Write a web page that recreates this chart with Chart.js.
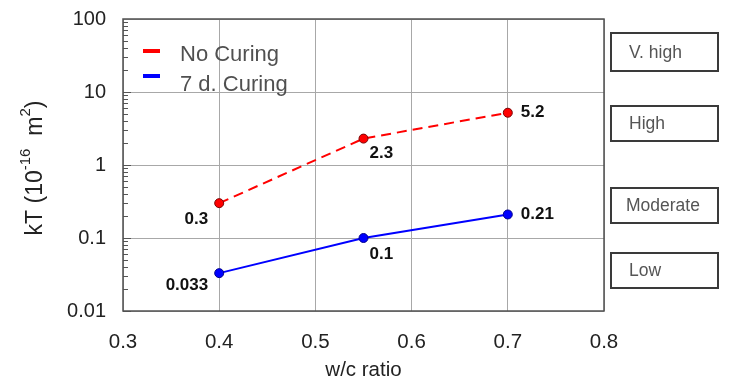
<!DOCTYPE html>
<html>
<head>
<meta charset="utf-8">
<script src="https://cdn.jsdelivr.net/npm/chart.js@4.4.1/dist/chart.umd.min.js"></script>
<style>
  html, body { margin: 0; padding: 0; background: #fff; }
  #wrap { width: 729px; height: 387px; position: relative; }
</style>
</head>
<body>
<div id="wrap"><canvas id="grafico"></canvas></div>
<script>
// data
const wcRatio = [0.4, 0.55, 0.7];
const noCuring = [0.3, 2.3, 5.2];
const curing7d = [0.033, 0.1, 0.21];
const noCuringLabels = ['0.3', '2.3', '5.2'];
const curing7dLabels = ['0.033', '0.1', '0.21'];
const yTicks = [0.01, 0.1, 1, 10, 100];
const xTicks = [0.3, 0.4, 0.5, 0.6, 0.7, 0.8];
const classes = ['V. high', 'High', 'Moderate', 'Low'];

const FONT = 'Arial, "Liberation Sans", sans-serif';

// label offsets relative to each point (dx, dy, align)
const labelPos = [
    [[-11, 16, 'right'], [6, 15, 'left'], [13, 0, 'left']],
    [[-11, 12, 'right'], [6, 16, 'left'], [13, 0, 'left']]
];
// class boxes on the right side [y top, y bottom]
const boxPos = [[33, 71], [106, 141], [188, 223], [253, 288]];

const extras = {
    id: 'extras',
    afterDraw(chart) {
        const ctx = chart.ctx;
        const area = chart.chartArea;
        const y = chart.scales.y;
        ctx.save();

        // minor ticks on the log axis
        ctx.strokeStyle = '#555';
        ctx.lineWidth = 1;
        for (let d = 0.01; d < 99; d *= 10) {
            for (let k = 2; k <= 9; k++) {
                const py = Math.round(y.getPixelForValue(d * k)) + 0.5;
                ctx.beginPath();
                ctx.moveTo(area.left, py);
                ctx.lineTo(area.left + 5, py);
                ctx.stroke();
            }
            const py = Math.round(y.getPixelForValue(d)) + 0.5;
            ctx.beginPath();
            ctx.moveTo(area.left, py);
            ctx.lineTo(area.left + 8, py);
            ctx.stroke();
        }

        // frame
        ctx.strokeStyle = '#505050';
        ctx.lineWidth = 1.5;
        ctx.strokeRect(area.left, area.top, area.right - area.left, area.bottom - area.top);

        // data labels
        ctx.fillStyle = '#111';
        ctx.font = 'bold 17px ' + FONT;
        ctx.textBaseline = 'middle';
        const allLabels = [noCuringLabels, curing7dLabels];
        chart.data.datasets.forEach((ds, i) => {
            const meta = chart.getDatasetMeta(i);
            meta.data.forEach((pt, j) => {
                const p = labelPos[i][j];
                ctx.textAlign = p[2];
                ctx.fillText(allLabels[i][j], pt.x + p[0], pt.y + p[1]);
            });
        });

        // legend inside the plot
        ctx.textAlign = 'left';
        ctx.font = '22px ' + FONT;
        chart.data.datasets.forEach((ds, i) => {
            const ly = 51 + i * 25;
            ctx.strokeStyle = ds.borderColor;
            ctx.lineWidth = 4;
            ctx.beginPath();
            ctx.moveTo(143, ly);
            ctx.lineTo(160, ly);
            ctx.stroke();
            ctx.fillStyle = '#505050';
            ctx.fillText(ds.label, 180, ly + 4 + i * 5);
        });

        // y axis title with superscripts
        ctx.save();
        ctx.translate(36, 168);
        ctx.rotate(-Math.PI / 2);
        ctx.fillStyle = '#222';
        ctx.textBaseline = 'middle';
        const big = '23px ' + FONT;
        const small = '15px ' + FONT;
        const parts = [['kT (10', big, 0], ['-16', small, -10], ['  m', big, 0], ['2', small, -10], [')', big, 0]];
        let total = 0;
        parts.forEach(p => { ctx.font = p[1]; total += ctx.measureText(p[0]).width; });
        let cx = -total / 2;
        parts.forEach(p => {
            ctx.font = p[1];
            ctx.fillText(p[0], cx, p[2]);
            cx += ctx.measureText(p[0]).width;
        });
        ctx.restore();

        // class boxes
        ctx.font = '17.5px ' + FONT;
        ctx.lineWidth = 2;
        ctx.strokeStyle = '#3a3a3a';
        ctx.fillStyle = '#555';
        ctx.textAlign = 'left';
        classes.forEach((c, i) => {
            const b = boxPos[i];
            ctx.strokeRect(611, b[0], 107, b[1] - b[0]);
            ctx.fillText(c, i === 2 ? 626 : 629, (b[0] + b[1]) / 2 + 1);
        });

        ctx.restore();
    }
};

const chart = new Chart(document.getElementById('grafico'), {
    type: 'line',
    data: {
        datasets: [
            {
                label: 'No Curing',
                data: wcRatio.map((w, i) => ({ x: w, y: noCuring[i] })),
                borderColor: '#ff0000',
                borderWidth: 2,
                borderDash: [10, 6],
                pointRadius: 4.5,
                pointBackgroundColor: '#ff0000',
                pointBorderColor: '#7a0000',
                pointBorderWidth: 1
            },
            {
                label: '7 d. Curing',
                data: wcRatio.map((w, i) => ({ x: w, y: curing7d[i] })),
                borderColor: '#0000ff',
                borderWidth: 2,
                pointRadius: 4.5,
                pointBackgroundColor: '#0000ff',
                pointBorderColor: '#00008b',
                pointBorderWidth: 1
            }
        ]
    },
    options: {
        responsive: true,
        maintainAspectRatio: false,
        animation: false,
        layout: { padding: { top: 19, right: 125, bottom: 0, left: 0 } },
        plugins: { legend: { display: false }, tooltip: { enabled: false } },
        scales: {
            x: {
                type: 'linear',
                min: 0.3,
                max: 0.8,
                afterBuildTicks: s => { s.ticks = xTicks.map(v => ({ value: v })); },
                afterFit: s => { s.height = 76; s.paddingLeft = 0; s.paddingRight = 0; },
                grid: { color: '#a8a8a8', lineWidth: 1, drawTicks: false },
                border: { display: false },
                ticks: {
                    padding: 19,
                    color: '#222',
                    font: { family: FONT, size: 20.5 },
                    callback: v => v.toFixed(1)
                },
                title: {
                    display: true,
                    text: 'w/c ratio',
                    color: '#222',
                    font: { family: FONT, size: 20.5 },
                    padding: { top: 7 }
                }
            },
            y: {
                type: 'logarithmic',
                min: 0.01,
                max: 100,
                afterBuildTicks: s => { s.ticks = yTicks.map(v => ({ value: v })); },
                afterFit: s => { s.width = 123; s.paddingTop = 0; s.paddingBottom = 0; },
                grid: { color: '#a8a8a8', lineWidth: 1, drawTicks: false },
                border: { display: false },
                ticks: {
                    padding: 17,
                    color: '#222',
                    font: { family: FONT, size: 20 },
                    callback: v => String(v)
                }
            }
        }
    },
    plugins: [extras]
});
</script>
</body>
</html>
